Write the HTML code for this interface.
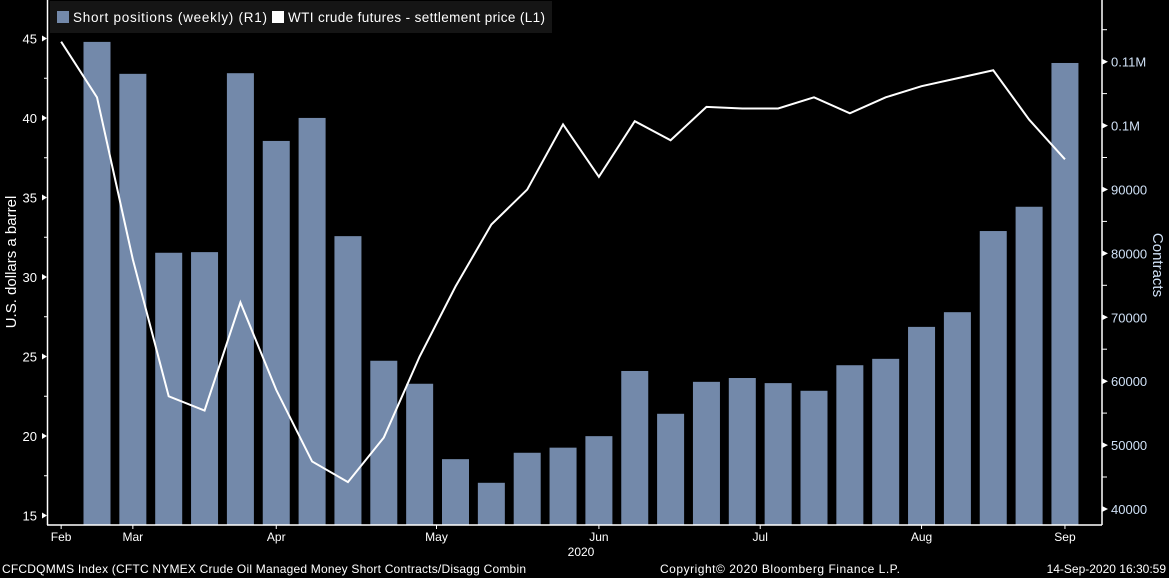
<!DOCTYPE html>
<html><head><meta charset="utf-8">
<style>
html,body{margin:0;padding:0;background:#000;}
svg{display:block;font-family:"Liberation Sans",sans-serif;}
</style></head>
<body>
<svg id="chart" width="1169" height="578" viewBox="0 0 1169 578">
  <rect x="0" y="0" width="1169" height="578" fill="#000"/>
  <g id="bars"></g>
  <g id="line"></g>
  <g id="axes"></g>
  <g>
    <rect x="50" y="1" width="502" height="32" fill="#151515"/>
    <rect x="57" y="11" width="12" height="12" fill="#7389aa"/>
    <text x="73" y="22" font-size="13.5" fill="#fff" textLength="194">Short positions (weekly) (R1)</text>
    <rect x="272" y="11" width="12" height="12" fill="#fff"/>
    <text x="288" y="22" font-size="13.5" fill="#fff" textLength="257">WTI crude futures - settlement price (L1)</text>
  </g>
  <text transform="translate(16,262) rotate(-90)" text-anchor="middle" font-size="15" fill="#fff">U.S. dollars a barrel</text>
  <text transform="translate(1153,265) rotate(90)" text-anchor="middle" font-size="15" fill="#cfe0f5">Contracts</text>
  <text x="581" y="556" text-anchor="middle" font-size="12" fill="#fff">2020</text>
  <text x="2" y="573" font-size="12" fill="#fff" textLength="524">CFCDQMMS Index (CFTC NYMEX Crude Oil Managed Money Short Contracts/Disagg Combin</text>
  <text x="660" y="573" font-size="12" fill="#fff" textLength="240">Copyright© 2020 Bloomberg Finance L.P.</text>
  <text x="1166" y="573" text-anchor="end" font-size="12" fill="#fff">14-Sep-2020 16:30:59</text>
</svg>
<script>
const shortPositions = [113100,108100,80100,80200,108200,97600,101200,82700,63200,59600,47800,44100,48800,49600,51400,61600,54900,59900,60500,59700,58500,62500,63500,68500,70800,83500,87300,109800];
const wtiPrice = [44.8,41.3,31.1,22.5,21.6,28.4,22.9,18.4,17.1,19.9,25.0,29.4,33.3,35.5,39.6,36.3,39.8,38.6,40.7,40.6,40.6,41.3,40.3,41.3,42.0,42.5,43.0,39.9,37.4];
const leftTicks = [15,20,25,30,35,40,45];
const rightTicks = [40000,50000,60000,70000,80000,90000,100000,110000];
const rightTickLabels = ["40000","50000","60000","70000","80000","90000","0.1M","0.11M"];
const monthLabels = ["Feb","Mar","Apr","May","Jun","Jul","Aug","Sep"];
const monthWeekIndex = [-1,1,5,9.47,14,18.5,23,27];

const NS="http://www.w3.org/2000/svg";
function mk(tag,attrs,parent){const e=document.createElementNS(NS,tag);for(const k in attrs)e.setAttribute(k,attrs[k]);parent.appendChild(e);return e;}
const xSlot = i => 97 + i*35.85;
const yL = v => 118 + (40-v)*15.9;
const yR = v => 509 - (v-40000)/10000*63.9;
const baseY = 525;

const gb=document.getElementById('bars');
shortPositions.forEach((v,i)=>{
  const y=yR(v);
  const r=mk('rect',{x:xSlot(i)-13.5,y:y,width:27,height:baseY-y,fill:'#7389aa'},gb);
  
  
});
const gl=document.getElementById('line');
const pts=wtiPrice.map((v,i)=>xSlot(i-1)+','+yL(v)).join(' ');
const pl=mk('polyline',{points:pts,fill:'none',stroke:'#fff','stroke-width':2},gl);



const ga=document.getElementById('axes');
const la=mk('line',{x1:47.5,y1:0,x2:47.5,y2:baseY,stroke:'#fff','stroke-width':1.5},ga);


const ra=mk('line',{x1:1102,y1:0,x2:1102,y2:baseY,stroke:'#fff','stroke-width':1.5},ga);


const xa=mk('line',{x1:47,y1:baseY,x2:1102,y2:baseY,stroke:'#fff','stroke-width':1.5},ga);


leftTicks.forEach(v=>{
  const y=yL(v);
  mk('polygon',{points:`47,${y} 42,${y-3} 42,${y+3}`,fill:'#fff'},ga);
  if(y-39.75>0) mk('line',{x1:47,y1:y-39.75,x2:44,y2:y-39.75,stroke:'#fff'},ga);
  const t=mk('text',{x:37,y:y+5,'text-anchor':'end','font-size':13,fill:'#fff'},ga);
  t.textContent=v;
  
  
});
rightTicks.forEach((v,i)=>{
  const y=yR(v);
  mk('polygon',{points:`1102,${y-3} 1108,${y} 1102,${y+3}`,fill:'#fff'},ga);
  mk('line',{x1:1102,y1:y-32,x2:1107,y2:y-32,stroke:'#fff'},ga);
  const t=mk('text',{x:1111,y:y+5,'font-size':13,fill:'#cfe0f5'},ga);
  t.textContent=rightTickLabels[i];
  
  
});
monthLabels.forEach((m,i)=>{
  const x=xSlot(monthWeekIndex[i]);
  mk('line',{x1:x,y1:baseY,x2:x,y2:baseY+4,stroke:'#fff'},ga);
  const t=mk('text',{x:x,y:541,'text-anchor':'middle','font-size':12,fill:'#fff'},ga);
  t.textContent=m;
  
  
});
</script>
</body></html>
